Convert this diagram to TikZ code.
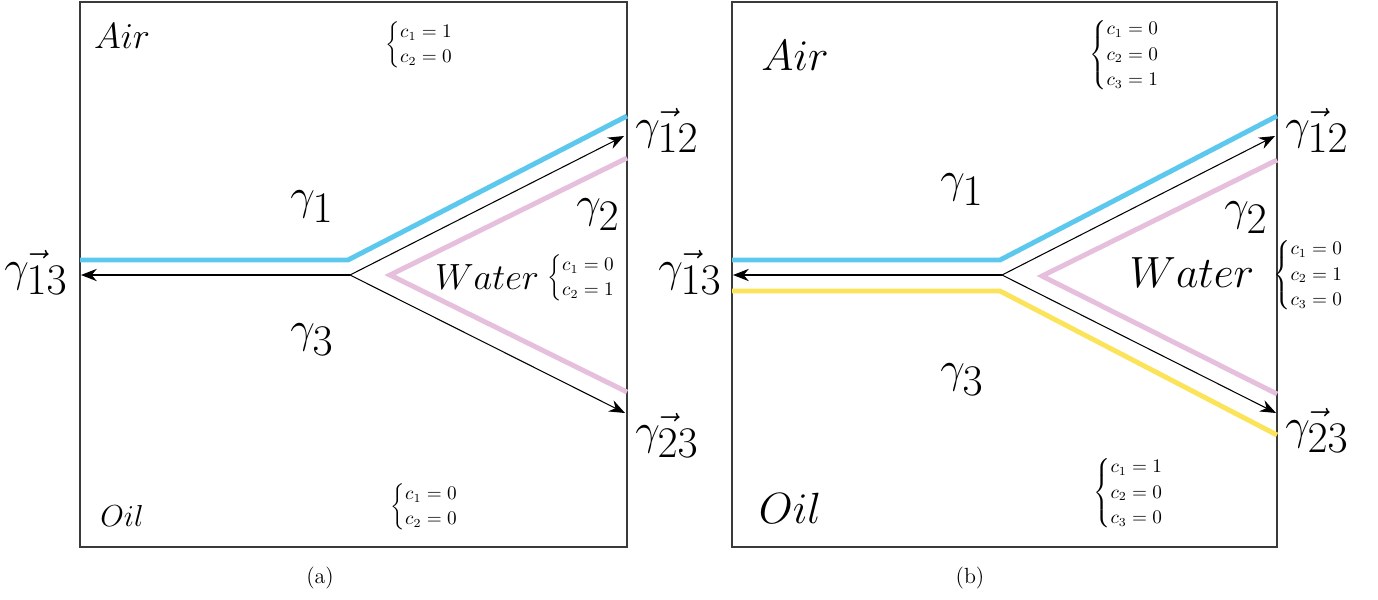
\documentclass[tikz,border=0pt]{standalone}
\usepackage{amsmath}
\usetikzlibrary{arrows.meta}
\definecolor{airBlue}{HTML}{5CC8EE}
\definecolor{waterPink}{HTML}{E6BFDD}
\definecolor{oilYellow}{HTML}{FBE35A}
\definecolor{frameGray}{HTML}{3A3A3A}
\tikzset{
  interface/.style={line width=2.8pt},
  normal/.style={-{Stealth[length=9pt,width=7pt]},line width=0.6pt},
  gammalabel/.style={font=\fontsize{24.5}{28}\selectfont},
  conc/.style={font=\fontsize{10.5}{12}\selectfont},
  caption/.style={font=\fontsize{12.5}{15}\selectfont}
}

\begin{document}
\begin{tikzpicture}[x=0.02cm,y=-0.02cm]
\useasboundingbox (0,0) rectangle (1378,599);
% (a) two interfaces, c1 and c2
\begin{scope}
\draw[frameGray,line width=0.6pt] (80,2) rectangle (627,547);
\coordinate (jA) at (350,275);
\coordinate (endA13) at (81,275);
\coordinate (endA12) at (624,136);
\coordinate (endA23) at (625,413);
\draw[airBlue,interface] (80,260) -- (348,260) -- (627,116);
\draw[waterPink,interface] (627,158) -- (390,275) -- (627,392);
\draw[normal] (jA) -- (endA13);
\draw[normal] (jA) -- (endA12);
\draw[normal] (jA) -- (endA23);
\node[font=\fontsize{19.5}{22}\selectfont] (airA) at (122,36) {$Air$};
\node[font=\fontsize{19}{22}\selectfont] (oilA) at (122,516) {$Oil$};
\node[font=\fontsize{20}{24}\selectfont] (waterA) at (487,277) {$Water$};
\node[gammalabel] (gA1) at (312,207) {$\gamma_{\textstyle 1}$};
\node[gammalabel] (gA2) at (598,215) {$\gamma_{\textstyle 2}$};
\node[gammalabel] (gA3) at (312,340) {$\gamma_{\textstyle 3}$};
\node[gammalabel] (gA12) at (667,130) {$\vec{\gamma_{\textstyle 12}}$};
\node[gammalabel] (gA13) at (36,272) {$\vec{\gamma_{\textstyle 13}}$};
\node[gammalabel] (gA23) at (667,435) {$\vec{\gamma_{\textstyle 23}}$};
\node[conc] (cA1) at (429,45) {$\begin{cases} c_1=1\\ c_2=0\end{cases}$};
\node[conc] (cA2) at (591,278) {$\begin{cases} c_1=0\\ c_2=1\end{cases}$};
\node[conc] (cA3) at (434,507) {$\begin{cases} c_1=0\\ c_2=0\end{cases}$};
\node[caption] (capA) at (320,578) {(a)};
\end{scope}
% (b) three interfaces, c1, c2 and c3
\begin{scope}
\draw[frameGray,line width=0.6pt] (732,2) rectangle (1277,547);
\coordinate (jB) at (1002,275);
\coordinate (endB13) at (733,275);
\coordinate (endB12) at (1275,136);
\coordinate (endB23) at (1276,413);
\draw[airBlue,interface] (732,260) -- (1000,260) -- (1277,116);
\draw[waterPink,interface] (1277,160) -- (1042,276) -- (1277,394);
\draw[oilYellow,interface] (732,291) -- (1000,291) -- (1277,435);
\draw[normal] (jB) -- (endB13);
\draw[normal] (jB) -- (endB12);
\draw[normal] (jB) -- (endB23);
\node[font=\fontsize{24.5}{28}\selectfont] (airB) at (795,56) {$Air$};
\node[font=\fontsize{25}{28}\selectfont] (oilB) at (790,508) {$Oil$};
\node[font=\fontsize{26.5}{30}\selectfont] (waterB) at (1192,273) {$Water$};
\node[gammalabel] (gB1) at (962,190) {$\gamma_{\textstyle 1}$};
\node[gammalabel] (gB2) at (1246,218) {$\gamma_{\textstyle 2}$};
\node[gammalabel] (gB3) at (962,380) {$\gamma_{\textstyle 3}$};
\node[gammalabel] (gB12) at (1317,130) {$\vec{\gamma_{\textstyle 12}}$};
\node[gammalabel] (gB13) at (690,272) {$\vec{\gamma_{\textstyle 13}}$};
\node[gammalabel] (gB23) at (1317,430) {$\vec{\gamma_{\textstyle 23}}$};
\node[conc] (cB1) at (1134,55) {$\begin{cases} c_1=0\\ c_2=0\\ c_3=1\end{cases}$};
\node[conc] (cB2) at (1318,275) {$\begin{cases} c_1=0\\ c_2=1\\ c_3=0\end{cases}$};
\node[conc] (cB3) at (1138,493) {$\begin{cases} c_1=1\\ c_2=0\\ c_3=0\end{cases}$};
\node[caption] (capB) at (970,578) {(b)};
\end{scope}
\end{tikzpicture}
\end{document}
